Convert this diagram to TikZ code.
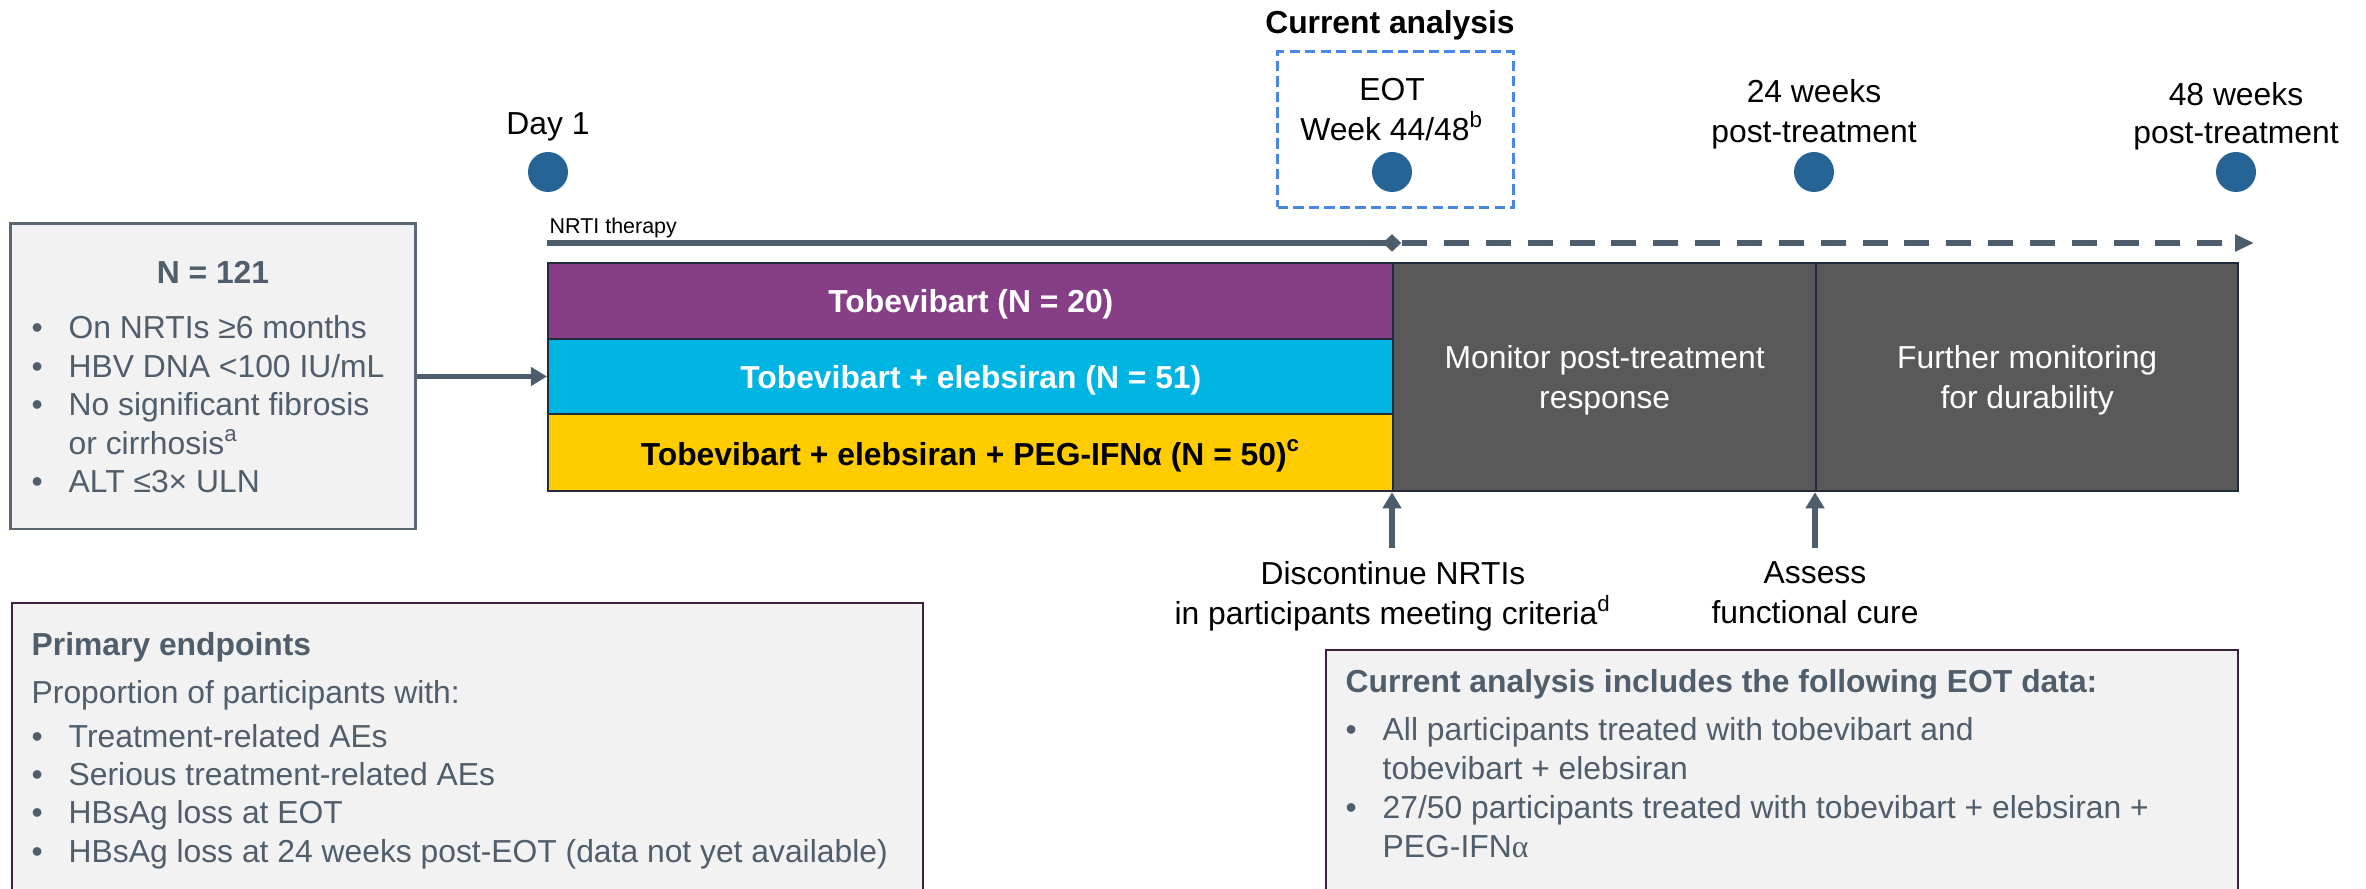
\documentclass[tikz,border=0pt]{standalone}
\usepackage{fontspec}
\setmainfont{Liberation Sans}
\newfontfamily\greekserif{Liberation Serif}
\usetikzlibrary{arrows.meta,shapes.geometric}

\definecolor{slate}{RGB}{80,93,107}
\definecolor{boxline}{RGB}{91,103,114}
\definecolor{boxfill}{RGB}{242,242,242}
\definecolor{plumline}{RGB}{61,32,64}
\definecolor{armpurple}{RGB}{134,62,135}
\definecolor{armcyan}{RGB}{0,181,226}
\definecolor{armyellow}{RGB}{255,204,0}
\definecolor{followgray}{RGB}{89,89,89}
\definecolor{cellline}{RGB}{32,44,58}
\definecolor{dotblue}{RGB}{38,100,150}
\definecolor{eotblue}{RGB}{74,134,232}
\definecolor{arrowslate}{RGB}{78,93,108}

% font sizes used throughout
\newcommand\mainfont{\fontsize{9.05}{11.5}\selectfont}
\newcommand\cellfont{\fontsize{9.05}{11.4}\selectfont}
% one bullet column for every list
\newcommand\bul{\makebox[0.37cm][l]{•}}

\begin{document}
\begin{tikzpicture}[x=0.01cm,y=-0.01cm,
  txt/.style={inner sep=0pt, font=\mainfont},
  ltxt/.style={txt, anchor=base west},
  ctxt/.style={txt, anchor=base},
  boldtxt/.style={font=\mainfont\bfseries},
  smalltxt/.style={inner sep=0pt, anchor=base west, font=\fontsize{6.1}{7}\selectfont},
  cell/.style={draw=cellline, line width=0.6pt, anchor=north west, inner sep=0pt,
    font=\cellfont, align=center, text depth=0pt},
  armcell/.style={cell, minimum width=8.45cm, font=\cellfont\bfseries},
  dot/.style={circle, fill=dotblue, minimum size=0.4cm, inner sep=0pt},
  conn/.style={draw=arrowslate, line width=1.45pt, -{Triangle[length=4.6pt,width=5.2pt]}},
  nrti/.style={draw=arrowslate, line width=1.5pt},
  infobox/.style={draw=boxline, line width=0.8pt, fill=boxfill, inner sep=0pt},
  notebox/.style={draw=plumline, line width=0.6pt, fill=boxfill, inner sep=0pt, anchor=north west},
  below label/.style={align=center, anchor=north, inner sep=3.7pt, font=\cellfont}
]
\useasboundingbox (0,0) rectangle (2366,889);
\clip (0,0) rectangle (2366,889);

% eligibility box
\node[infobox, minimum width=4.04cm, minimum height=3.05cm] (nbox) at (213,376.5) {};
\node[ctxt, boldtxt, text=slate] (ntitle) at (213,284) {N = 121};
\node[ltxt, text=slate] (n1) at (31,339) {\bul On NRTIs ≥6 months};
\node[ltxt, text=slate] (n2) at (31,377.5) {\bul HBV DNA <100 IU/mL};
\node[ltxt, text=slate] (n3) at (31,416) {\bul No significant fibrosis};
\node[ltxt, text=slate] (n3b) at (68,454.5) {or cirrhosis\textsuperscript{a}};
\node[ltxt, text=slate] (n4) at (31,493) {\bul ALT ≤3× ULN};

% treatment arms and follow-up phases
\node[armcell, fill=armpurple, text=white, minimum height=0.76cm] (purple) at (547,262) {Tobevibart (N = 20)};
\node[armcell, fill=armcyan, text=white, minimum height=0.75cm] (cyan) at (547,338) {Tobevibart + elebsiran (N = 51)};
\node[armcell, fill=armyellow, text=black, minimum height=0.77cm] (yellow) at (547,413) {Tobevibart + elebsiran + PEG-IFNα (N = 50)\textsuperscript{c}};
\node[cell, fill=followgray, text=white, minimum width=4.23cm, minimum height=2.28cm] (dark1) at (1392,262) {Monitor post-treatment\\response};
\node[cell, fill=followgray, text=white, minimum width=4.22cm, minimum height=2.28cm] (dark2) at (1815,262) {Further monitoring\\for durability};

\draw[conn] (nbox.east) -- (nbox.east -| cyan.west);

% timepoints
\node[dot] (d1) at (548,172) {};
\node[dot] (d2) at (1392,172) {};
\node[dot] (d3) at (1814,172) {};
\node[dot] (d4) at (2236,172) {};
\node[ctxt] (day1) at (548,135) {Day 1};
\node[ctxt] (eot1) at (1392,101) {EOT};
\node[ctxt] (eot2) at (1392,141) {Week 44/48\textsuperscript{b}};
\node[ctxt] (w24a) at (1814,103) {24 weeks};
\node[ctxt] (w24b) at (1814,143) {post-treatment};
\node[ctxt] (w48a) at (2236,106) {48 weeks};
\node[ctxt] (w48b) at (2236,144) {post-treatment};
\node[ctxt, boldtxt] (cur) at (1390,34) {Current analysis};
\node[draw=eotblue, line width=0.85pt, dash pattern=on 2.9pt off 1.5pt,
      minimum width=2.35cm, minimum height=1.55cm, inner sep=0pt] (cabox) at (1395.5,129.5) {};

% NRTI therapy line
\node[smalltxt] (nrtilabel) at (549,234) {NRTI therapy};
\coordinate (nrtistart) at (547,243);
\coordinate (nrtiend) at (2254,243);
\node[diamond, fill=arrowslate, minimum width=0.19cm, minimum height=0.18cm, inner sep=0pt] (eotmark) at (1392,243) {};
\draw[nrti] (nrtistart) -- (eotmark.center);
\draw[nrti, dash pattern=on 7.1pt off 4.8pt, -{Triangle[length=5.4pt,width=4.6pt]}] (eotmark.east) -- (nrtiend);

% decision points under the bar
\node[below label] (disc) at (1393,548) {Discontinue NRTIs\\in participants meeting criteria\textsuperscript{d}};
\node[below label] (assess) at (1815,548) {Assess\\functional cure};
\draw[conn] (disc.north -| dark1.south west) -- (dark1.south west);
\draw[conn] (assess.north -| dark2.south west) -- (dark2.south west);

% primary endpoints
\node[notebox, minimum width=9.10cm, minimum height=3.2cm] (pbox) at (11,602) {};
\node[ltxt, boldtxt, text=slate] (ptitle) at (31,656) {Primary endpoints};
\node[ltxt, text=slate] (p0) at (31,704) {Proportion of participants with:};
\node[ltxt, text=slate] (p1) at (31,748) {\bul Treatment-related AEs};
\node[ltxt, text=slate] (p2) at (31,786) {\bul Serious treatment-related AEs};
\node[ltxt, text=slate] (p3) at (31,824) {\bul HBsAg loss at EOT};
\node[ltxt, text=slate] (p4) at (31,863) {\bul HBsAg loss at 24 weeks post-EOT (data not yet available)};

% data included in this analysis
\node[notebox, minimum width=9.11cm, minimum height=3.0cm] (ebox) at (1325,649) {};
\node[ltxt, boldtxt, text=slate] (etitle) at (1345,693) {Current analysis includes the following EOT data:};
\node[ltxt, text=slate] (e1) at (1345,741) {\bul All participants treated with tobevibart and};
\node[ltxt, text=slate] (e1b) at (1382,780) {tobevibart + elebsiran};
\node[ltxt, text=slate] (e2) at (1345,819) {\bul 27/50 participants treated with tobevibart + elebsiran +};
\node[ltxt, text=slate] (e2b) at (1382,858) {PEG-IFN{\greekserif α}};
\end{tikzpicture}
\end{document}
